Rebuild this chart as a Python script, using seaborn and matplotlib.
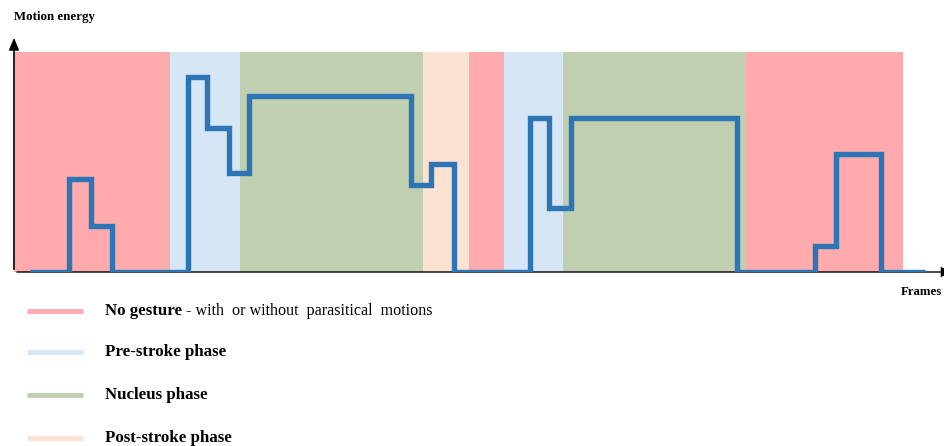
import matplotlib
matplotlib.use("Agg")
import matplotlib.pyplot as plt
from matplotlib.lines import Line2D
import seaborn as sns

sns.set_theme(style="white")
plt.rcParams['font.family'] = ['Liberation Serif', 'DejaVu Serif']
plt.rcParams['text.color'] = 'black'

# phase bands (frame start, frame end, phase)
band_start = [0, 156, 226, 409, 455, 490, 549, 732]
band_end = [156, 226, 409, 455, 490, 549, 732, 889]
band_phase = ["none", "pre", "nucleus", "post", "none", "pre", "nucleus", "none"]
band_top = 220

# motion energy, step-wise (value holds until the next frame)
frames = [16, 55, 77, 98, 174, 193, 215, 235, 397, 417, 440, 516, 535, 557, 723, 801, 822, 867, 911]
energy = [0, 93, 46, 0, 195, 144, 99, 176, 87, 108, 0, 154, 64, 154, 0, 26, 118, 0, 0]

phase_colors = {"none": "#FFABAD", "pre": "#D7E6F4", "nucleus": "#C1CFB1", "post": "#FCE2D2"}
legend_labels = ["No gesture", "Pre-stroke phase", "Nucleus phase", "Post-stroke phase"]
legend_keys = ["none", "pre", "nucleus", "post"]

fig = plt.figure(figsize=(9.44, 4.46), dpi=100)
ax = fig.add_axes([14 / 944, 1 - 272 / 446, 1 - 14 / 944, 237 / 446])

for x0, x1, ph in zip(band_start, band_end, band_phase):
    ax.fill_between([x0, x1], 0, band_top, color=phase_colors[ph], linewidth=0, zorder=1)

sns.lineplot(x=frames, y=energy, ax=ax, drawstyle="steps-post", color="#2E75B6",
             linewidth=3.9, solid_joinstyle="miter", solid_capstyle="butt", zorder=3)

ax.set_xlim(0, 930)
ax.set_ylim(0, 237)
ax.set_xticks([])
ax.set_yticks([])
for s in ax.spines.values():
    s.set_visible(False)

# axes with arrows
ax.annotate("", xy=(0, 237), xytext=(0, 0),
            arrowprops=dict(arrowstyle="-|>,head_width=0.25,head_length=0.6", color="black", lw=1.2),
            annotation_clip=False, zorder=4)
ax.annotate("", xy=(942, 0), xytext=(0, 0),
            arrowprops=dict(arrowstyle="-|>,head_width=0.25,head_length=0.6", color="black", lw=1.0),
            annotation_clip=False, zorder=2)

fig.text(14 / 944, 1 - 17 / 446, "Motion energy", fontsize=9.3, fontweight="bold", va="center", ha="left")
fig.text(942 / 944, 1 - 292 / 446, "Frames", fontsize=9.3, fontweight="bold", va="center", ha="right")

# legend
legend_y = [311, 352, 395, 438]
renderer = fig.canvas.get_renderer()
for key, lab, py in zip(legend_keys, legend_labels, legend_y):
    yy = 1 - py / 446
    fig.add_artist(Line2D([27 / 944, 83 / 944], [yy, yy], color=phase_colors[key], lw=3.5,
                          solid_capstyle="butt"))
    t = fig.text(105 / 944, yy, lab, fontsize=12.2, fontweight="bold", va="center", ha="left")
    if key == "none":
        bb = t.get_window_extent(renderer)
        fig.text(bb.x1 / 944 + 4 / 944, yy, "- with  or without  parasitical  motions",
                 fontsize=11.6, va="center", ha="left")

fig.savefig("out.png", dpi=100)
